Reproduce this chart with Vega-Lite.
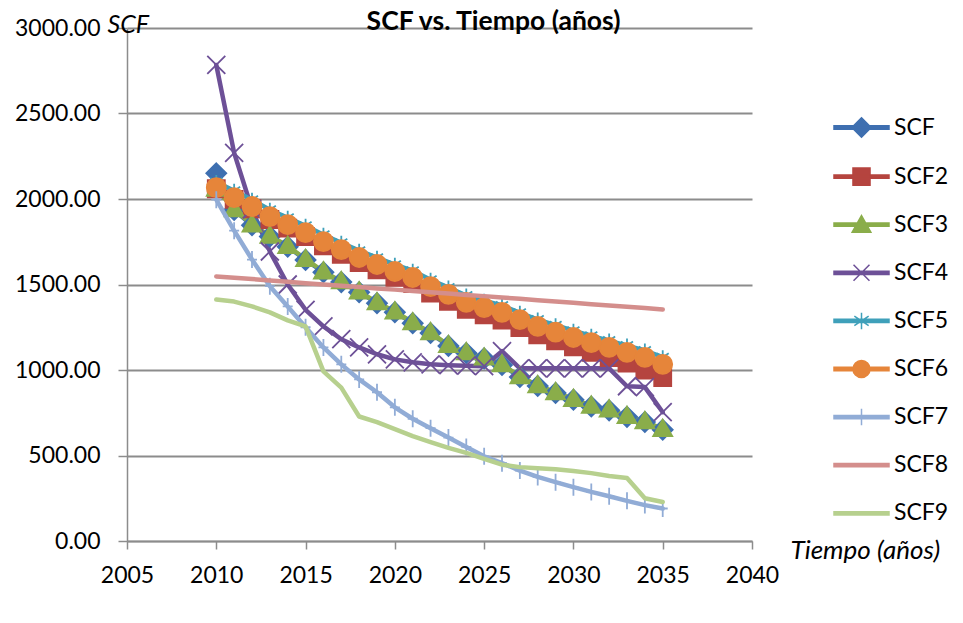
{
  "$schema": "https://vega.github.io/schema/vega-lite/v6.json",
  "width": 625,
  "height": 513,
  "autosize": {"type": "none"},
  "padding": {"left": 127, "top": 28, "right": 211, "bottom": 82},
  "background": "white",
  "config": {"view": {"stroke": null}, "font": "Lato"},
  "title": {"text": "SCF vs. Tiempo (años)", "font": "Lato", "fontSize": 26.5, "fontWeight": "bold", "color": "black", "anchor": "middle", "frame": "group", "baseline": "alphabetic", "offset": 0, "dx": 54, "dy": 44},
  "data": {"values": [
    {"year": 2010, "SCF": 2150, "SCF2": 2060, "SCF3": 2060, "SCF4": 2784, "SCF5": 2100, "SCF6": 2066, "SCF7": 1996, "SCF8": 1547, "SCF9": 1412},
    {"year": 2011, "SCF": 1936, "SCF2": 1998, "SCF3": 1940, "SCF4": 2270, "SCF5": 2048, "SCF6": 2008, "SCF7": 1815, "SCF8": 1540, "SCF9": 1400},
    {"year": 2012, "SCF": 1846, "SCF2": 1943, "SCF3": 1850, "SCF4": 1940, "SCF5": 1995, "SCF6": 1956, "SCF7": 1646, "SCF8": 1532, "SCF9": 1372},
    {"year": 2013, "SCF": 1781, "SCF2": 1880, "SCF3": 1785, "SCF4": 1693, "SCF5": 1937, "SCF6": 1897, "SCF7": 1490, "SCF8": 1524, "SCF9": 1337},
    {"year": 2014, "SCF": 1721, "SCF2": 1830, "SCF3": 1725, "SCF4": 1500, "SCF5": 1890, "SCF6": 1850, "SCF7": 1372, "SCF8": 1516, "SCF9": 1290},
    {"year": 2015, "SCF": 1644, "SCF2": 1780, "SCF3": 1648, "SCF4": 1352, "SCF5": 1843, "SCF6": 1803, "SCF7": 1250, "SCF8": 1508, "SCF9": 1255},
    {"year": 2016, "SCF": 1572, "SCF2": 1726, "SCF3": 1576, "SCF4": 1255, "SCF5": 1791, "SCF6": 1751, "SCF7": 1132, "SCF8": 1500, "SCF9": 992},
    {"year": 2017, "SCF": 1514, "SCF2": 1676, "SCF3": 1518, "SCF4": 1180, "SCF5": 1744, "SCF6": 1704, "SCF7": 1033, "SCF8": 1492, "SCF9": 897},
    {"year": 2018, "SCF": 1455, "SCF2": 1628, "SCF3": 1459, "SCF4": 1132, "SCF5": 1698, "SCF6": 1658, "SCF7": 945, "SCF8": 1485, "SCF9": 728},
    {"year": 2019, "SCF": 1391, "SCF2": 1585, "SCF3": 1395, "SCF4": 1092, "SCF5": 1657, "SCF6": 1617, "SCF7": 870, "SCF8": 1477, "SCF9": 695},
    {"year": 2020, "SCF": 1338, "SCF2": 1542, "SCF3": 1342, "SCF4": 1062, "SCF5": 1616, "SCF6": 1576, "SCF7": 782, "SCF8": 1470, "SCF9": 654},
    {"year": 2021, "SCF": 1274, "SCF2": 1505, "SCF3": 1278, "SCF4": 1045, "SCF5": 1581, "SCF6": 1541, "SCF7": 715, "SCF8": 1462, "SCF9": 613},
    {"year": 2022, "SCF": 1216, "SCF2": 1450, "SCF3": 1220, "SCF4": 1033, "SCF5": 1528, "SCF6": 1488, "SCF7": 660, "SCF8": 1455, "SCF9": 578},
    {"year": 2023, "SCF": 1141, "SCF2": 1402, "SCF3": 1145, "SCF4": 1028, "SCF5": 1482, "SCF6": 1442, "SCF7": 605, "SCF8": 1447, "SCF9": 545},
    {"year": 2024, "SCF": 1099, "SCF2": 1354, "SCF3": 1103, "SCF4": 1025, "SCF5": 1435, "SCF6": 1395, "SCF7": 550, "SCF8": 1439, "SCF9": 515},
    {"year": 2025, "SCF": 1068, "SCF2": 1322, "SCF3": 1072, "SCF4": 1022, "SCF5": 1405, "SCF6": 1365, "SCF7": 495, "SCF8": 1432, "SCF9": 480},
    {"year": 2026, "SCF": 1029, "SCF2": 1292, "SCF3": 1033, "SCF4": 1110, "SCF5": 1377, "SCF6": 1337, "SCF7": 455, "SCF8": 1424, "SCF9": 446},
    {"year": 2027, "SCF": 959, "SCF2": 1248, "SCF3": 963, "SCF4": 1010, "SCF5": 1335, "SCF6": 1295, "SCF7": 412, "SCF8": 1416, "SCF9": 432},
    {"year": 2028, "SCF": 906, "SCF2": 1206, "SCF3": 910, "SCF4": 1010, "SCF5": 1295, "SCF6": 1255, "SCF7": 375, "SCF8": 1408, "SCF9": 426},
    {"year": 2029, "SCF": 866, "SCF2": 1170, "SCF3": 870, "SCF4": 1010, "SCF5": 1262, "SCF6": 1222, "SCF7": 344, "SCF8": 1401, "SCF9": 420},
    {"year": 2030, "SCF": 826, "SCF2": 1136, "SCF3": 830, "SCF4": 1010, "SCF5": 1230, "SCF6": 1190, "SCF7": 315, "SCF8": 1393, "SCF9": 409},
    {"year": 2031, "SCF": 786, "SCF2": 1103, "SCF3": 790, "SCF4": 1010, "SCF5": 1200, "SCF6": 1160, "SCF7": 287, "SCF8": 1385, "SCF9": 397},
    {"year": 2032, "SCF": 764, "SCF2": 1072, "SCF3": 768, "SCF4": 1010, "SCF5": 1172, "SCF6": 1132, "SCF7": 262, "SCF8": 1377, "SCF9": 380},
    {"year": 2033, "SCF": 726, "SCF2": 1040, "SCF3": 730, "SCF4": 905, "SCF5": 1143, "SCF6": 1103, "SCF7": 235, "SCF8": 1370, "SCF9": 368},
    {"year": 2034, "SCF": 696, "SCF2": 1000, "SCF3": 700, "SCF4": 900, "SCF5": 1114, "SCF6": 1074, "SCF7": 210, "SCF8": 1362, "SCF9": 250},
    {"year": 2035, "SCF": 650, "SCF2": 955, "SCF3": 654, "SCF4": 753, "SCF5": 1075, "SCF6": 1033, "SCF7": 190, "SCF8": 1354, "SCF9": 228}
  ]},
  "transform": [{"fold": ["SCF", "SCF2", "SCF3", "SCF4", "SCF5", "SCF6", "SCF7", "SCF8", "SCF9"], "as": ["series", "value"]}],
  "encoding": {
    "x": {"field": "year", "type": "quantitative", "scale": {"domain": [2005, 2040], "nice": false, "zero": false},
      "axis": {"values": [2005, 2010, 2015, 2020, 2025, 2030, 2035, 2040], "format": "d", "title": "Tiempo (años)", "titleFont": "Lato", "titleFontSize": 26, "titleFontStyle": "italic", "titleFontWeight": "normal", "titleColor": "black", "titleX": 663, "titleY": 17, "titleAlign": "left", "titleBaseline": "alphabetic", "labelFont": "Lato", "labelFontSize": 23, "labelColor": "black", "labelPadding": 15, "tickSize": 8, "tickColor": "#8c8c8c", "tickWidth": 1.5, "domainColor": "#8c8c8c", "domainWidth": 1.5, "grid": false, "labelFlush": false, "labelOverlap": false}},
    "y": {"field": "value", "type": "quantitative", "scale": {"domain": [0, 3000], "nice": false},
      "axis": {"values": [0, 500, 1000, 1500, 2000, 2500, 3000], "format": ".2f", "title": "SCF", "titleFont": "Lato", "titleFontSize": 25, "titleFontStyle": "italic", "titleFontWeight": "normal", "titleColor": "black", "titleAngle": 0, "titleX": -20, "titleY": 4, "titleAlign": "left", "titleBaseline": "alphabetic", "labelFont": "Lato", "labelFontSize": 23, "labelColor": "black", "labelPadding": 18, "tickSize": 9, "tickColor": "#8c8c8c", "tickWidth": 1.5, "domainColor": "#8c8c8c", "domainWidth": 1.5, "grid": true, "gridColor": "#8c8c8c", "gridWidth": 2, "labelFlush": false, "labelOverlap": false}},
    "color": {"field": "series", "type": "nominal",
      "scale": {"domain": ["SCF", "SCF2", "SCF3", "SCF4", "SCF5", "SCF6", "SCF7", "SCF8", "SCF9"], "range": ["#3E6FB0", "#B5443F", "#8AAD4A", "#6D5097", "#3FA0BA", "#E6853A", "#91ACD6", "#D48E8C", "#B7D08E"]},
      "legend": {"title": null, "orient": "none", "legendX": 706, "legendY": 71, "padding": 0, "symbolSize": 3025, "symbolOffset": 0, "symbolStrokeWidth": 1.5, "labelFont": "Lato", "labelFontSize": 23, "labelColor": "black", "labelOffset": 4, "rowPadding": 7.1,
        "encoding": {"symbols": {
          "shape": {"value": {"expr": "datum.value === 'SCF' ? 'M-1,-0.06H1V0.06H-1ZM0,-0.35L0.35,0L0,0.35L-0.35,0Z' : datum.value === 'SCF2' ? 'M-1,-0.06H1V0.06H-1ZM-0.31,-0.31H0.31V0.31H-0.31Z' : datum.value === 'SCF3' ? 'M-1,-0.06H1V0.06H-1ZM0,-0.33L0.34,0.27H-0.34Z' : datum.value === 'SCF4' ? 'M-1,-0.06H1V0.06H-1ZM-0.29,-0.29L0.29,0.29M-0.29,0.29L0.29,-0.29' : datum.value === 'SCF5' ? 'M-1,-0.06H1V0.06H-1ZM0,-0.3V0.3M-0.26,-0.17L0.26,0.17M-0.26,0.17L0.26,-0.17' : datum.value === 'SCF6' ? 'M-1,-0.06H1V0.06H-1ZM0.31,0A0.31,0.31,0,1,1,-0.31,0A0.31,0.31,0,1,1,0.31,0Z' : datum.value === 'SCF7' ? 'M-1,-0.06H1V0.06H-1ZM0,-0.3V0.3' : 'M-1,-0.06H1V0.06H-1Z'"}},
          "fill": {"value": {"expr": "scale('color', datum.value)"}},
          "stroke": {"value": {"expr": "scale('color', datum.value)"}},
          "strokeWidth": {"value": 1.5},
          "opacity": {"value": 1}
        }}
      }
    }
  },
  "layer": [
    {
      "transform": [{"filter": "indexof(['SCF','SCF2','SCF3','SCF4','SCF5','SCF6'], datum.series) >= 0"}],
      "mark": {"type": "line", "strokeWidth": 4.5, "strokeCap": "round", "strokeJoin": "round"}
    },
    {
      "transform": [{"filter": "indexof(['SCF','SCF2','SCF3','SCF4','SCF5','SCF6'], datum.series) >= 0"}],
      "mark": {"type": "point", "filled": true, "opacity": 1, "size": 400, "strokeWidth": 1.8},
      "encoding": {
        "shape": {"field": "series", "type": "nominal", "legend": null, "scale": {"domain": ["SCF", "SCF2", "SCF3", "SCF4", "SCF5", "SCF6", "SCF7"], "range": ["M0,-1L1,0L0,1L-1,0Z", "M-0.85,-0.85H0.85V0.85H-0.85Z", "M0,-0.95L0.95,0.7H-0.95Z", "M-0.9,-0.9L0.9,0.9M-0.9,0.9L0.9,-0.9", "M0,-0.7V0.7M-0.6,-0.4L0.6,0.4M-0.6,0.4L0.6,-0.4", "M0.95,0A0.95,0.95,0,1,1,-0.95,0A0.95,0.95,0,1,1,0.95,0Z", "M-0.5,0H0.5M0,-0.85V0.85"]}},
        "stroke": {"field": "series", "type": "nominal", "legend": null, "scale": {"domain": ["SCF", "SCF2", "SCF3", "SCF4", "SCF5", "SCF6", "SCF7"], "range": ["#3E6FB0", "#B5443F", "#8AAD4A", "#6D5097", "#3FA0BA", "#E6853A", "#91ACD6"]}},
        "order": {"field": "series", "type": "ordinal"}
      }
    },
    {
      "transform": [{"filter": "datum.series === 'SCF7'"}],
      "mark": {"type": "line", "strokeWidth": 4.5, "strokeCap": "round", "strokeJoin": "round"}
    },
    {
      "transform": [{"filter": "datum.series === 'SCF7'"}],
      "mark": {"type": "point", "filled": true, "opacity": 1, "size": 400, "strokeWidth": 1.8},
      "encoding": {
        "shape": {"field": "series", "type": "nominal", "legend": null},
        "stroke": {"field": "series", "type": "nominal", "legend": null}
      }
    },
    {
      "transform": [{"filter": "datum.series === 'SCF8' || datum.series === 'SCF9'"}],
      "mark": {"type": "line", "strokeWidth": 4.5, "strokeCap": "round", "strokeJoin": "round"}
    }
  ]
}
